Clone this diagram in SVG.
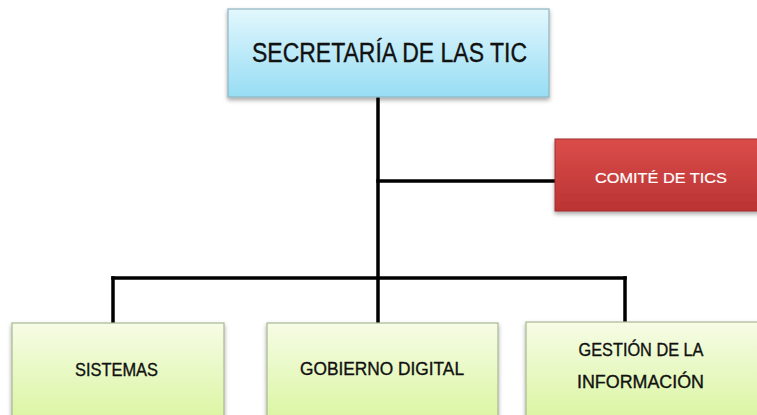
<svg xmlns="http://www.w3.org/2000/svg" width="757" height="415" viewBox="0 0 757 415">
  <style>
    .lbl { font-family: "Liberation Sans", Arial, sans-serif; text-anchor: middle; fill: #111; stroke: #111; stroke-width: 0.35; }
    .wht { fill: #fff; stroke: #fff; stroke-width: 0.2; }
    .conn { stroke: #000; stroke-width: 3.5; fill: none; stroke-linecap: square; }
    .green { fill: url(#gGreen); stroke: #a9b890; stroke-width: 1.2; }
  </style>
  <defs>
    <linearGradient id="gBlue" x1="0" y1="0" x2="0" y2="1">
      <stop offset="0" stop-color="#e2f7fd"/>
      <stop offset="1" stop-color="#97ddf4"/>
    </linearGradient>
    <linearGradient id="gRed" x1="0" y1="0" x2="0" y2="1">
      <stop offset="0" stop-color="#da4d4b"/>
      <stop offset="1" stop-color="#bb3333"/>
    </linearGradient>
    <linearGradient id="gGreen" x1="0" y1="0" x2="0" y2="1">
      <stop offset="0" stop-color="#f6fce6"/>
      <stop offset="1" stop-color="#daf5a0"/>
    </linearGradient>
    <filter id="shadow" x="-10%" y="-10%" width="120%" height="130%">
      <feDropShadow dx="0" dy="2.5" stdDeviation="2" flood-color="#000" flood-opacity="0.35"/>
    </filter>
  </defs>

  <g id="connectors">
    <line class="conn" x1="378" y1="97" x2="378" y2="322"/>
    <line class="conn" x1="378" y1="181" x2="555" y2="181"/>
    <line class="conn" x1="113" y1="278" x2="625" y2="278"/>
    <line class="conn" x1="113" y1="278" x2="113" y2="322"/>
    <line class="conn" x1="625" y1="278" x2="625" y2="322"/>
  </g>

  <g id="secretaria">
    <rect x="228" y="9" width="321" height="88" fill="url(#gBlue)" stroke="#8fb4c0" stroke-width="1.2" filter="url(#shadow)"/>
    <text class="lbl" x="389.5" y="62" font-size="27" textLength="275" lengthAdjust="spacingAndGlyphs">SECRETARÍA DE LAS TIC</text>
  </g>

  <g id="comite">
    <rect x="555" y="139" width="205" height="72" fill="url(#gRed)" stroke="#a52a2a" stroke-width="1" filter="url(#shadow)"/>
    <text class="lbl wht" x="661" y="183" font-size="15.5" textLength="132" lengthAdjust="spacingAndGlyphs">COMITÉ DE TICS</text>
  </g>

  <g id="sistemas">
    <rect class="green" x="12" y="323" width="212" height="100" filter="url(#shadow)"/>
    <text class="lbl" x="116.5" y="376" font-size="17.5" textLength="83" lengthAdjust="spacingAndGlyphs">SISTEMAS</text>
  </g>

  <g id="gobierno">
    <rect class="green" x="267" y="323" width="231" height="100" filter="url(#shadow)"/>
    <text class="lbl" x="382" y="375" font-size="17.5" textLength="164" lengthAdjust="spacingAndGlyphs">GOBIERNO DIGITAL</text>
  </g>

  <g id="gestion">
    <rect class="green" x="526" y="322" width="240" height="100" filter="url(#shadow)"/>
    <text class="lbl" x="641" y="356" font-size="17.5" textLength="125" lengthAdjust="spacingAndGlyphs">GESTIÓN DE LA</text>
    <text class="lbl" x="640.5" y="388" font-size="17.5" textLength="127" lengthAdjust="spacingAndGlyphs">INFORMACIÓN</text>
  </g>
</svg>
